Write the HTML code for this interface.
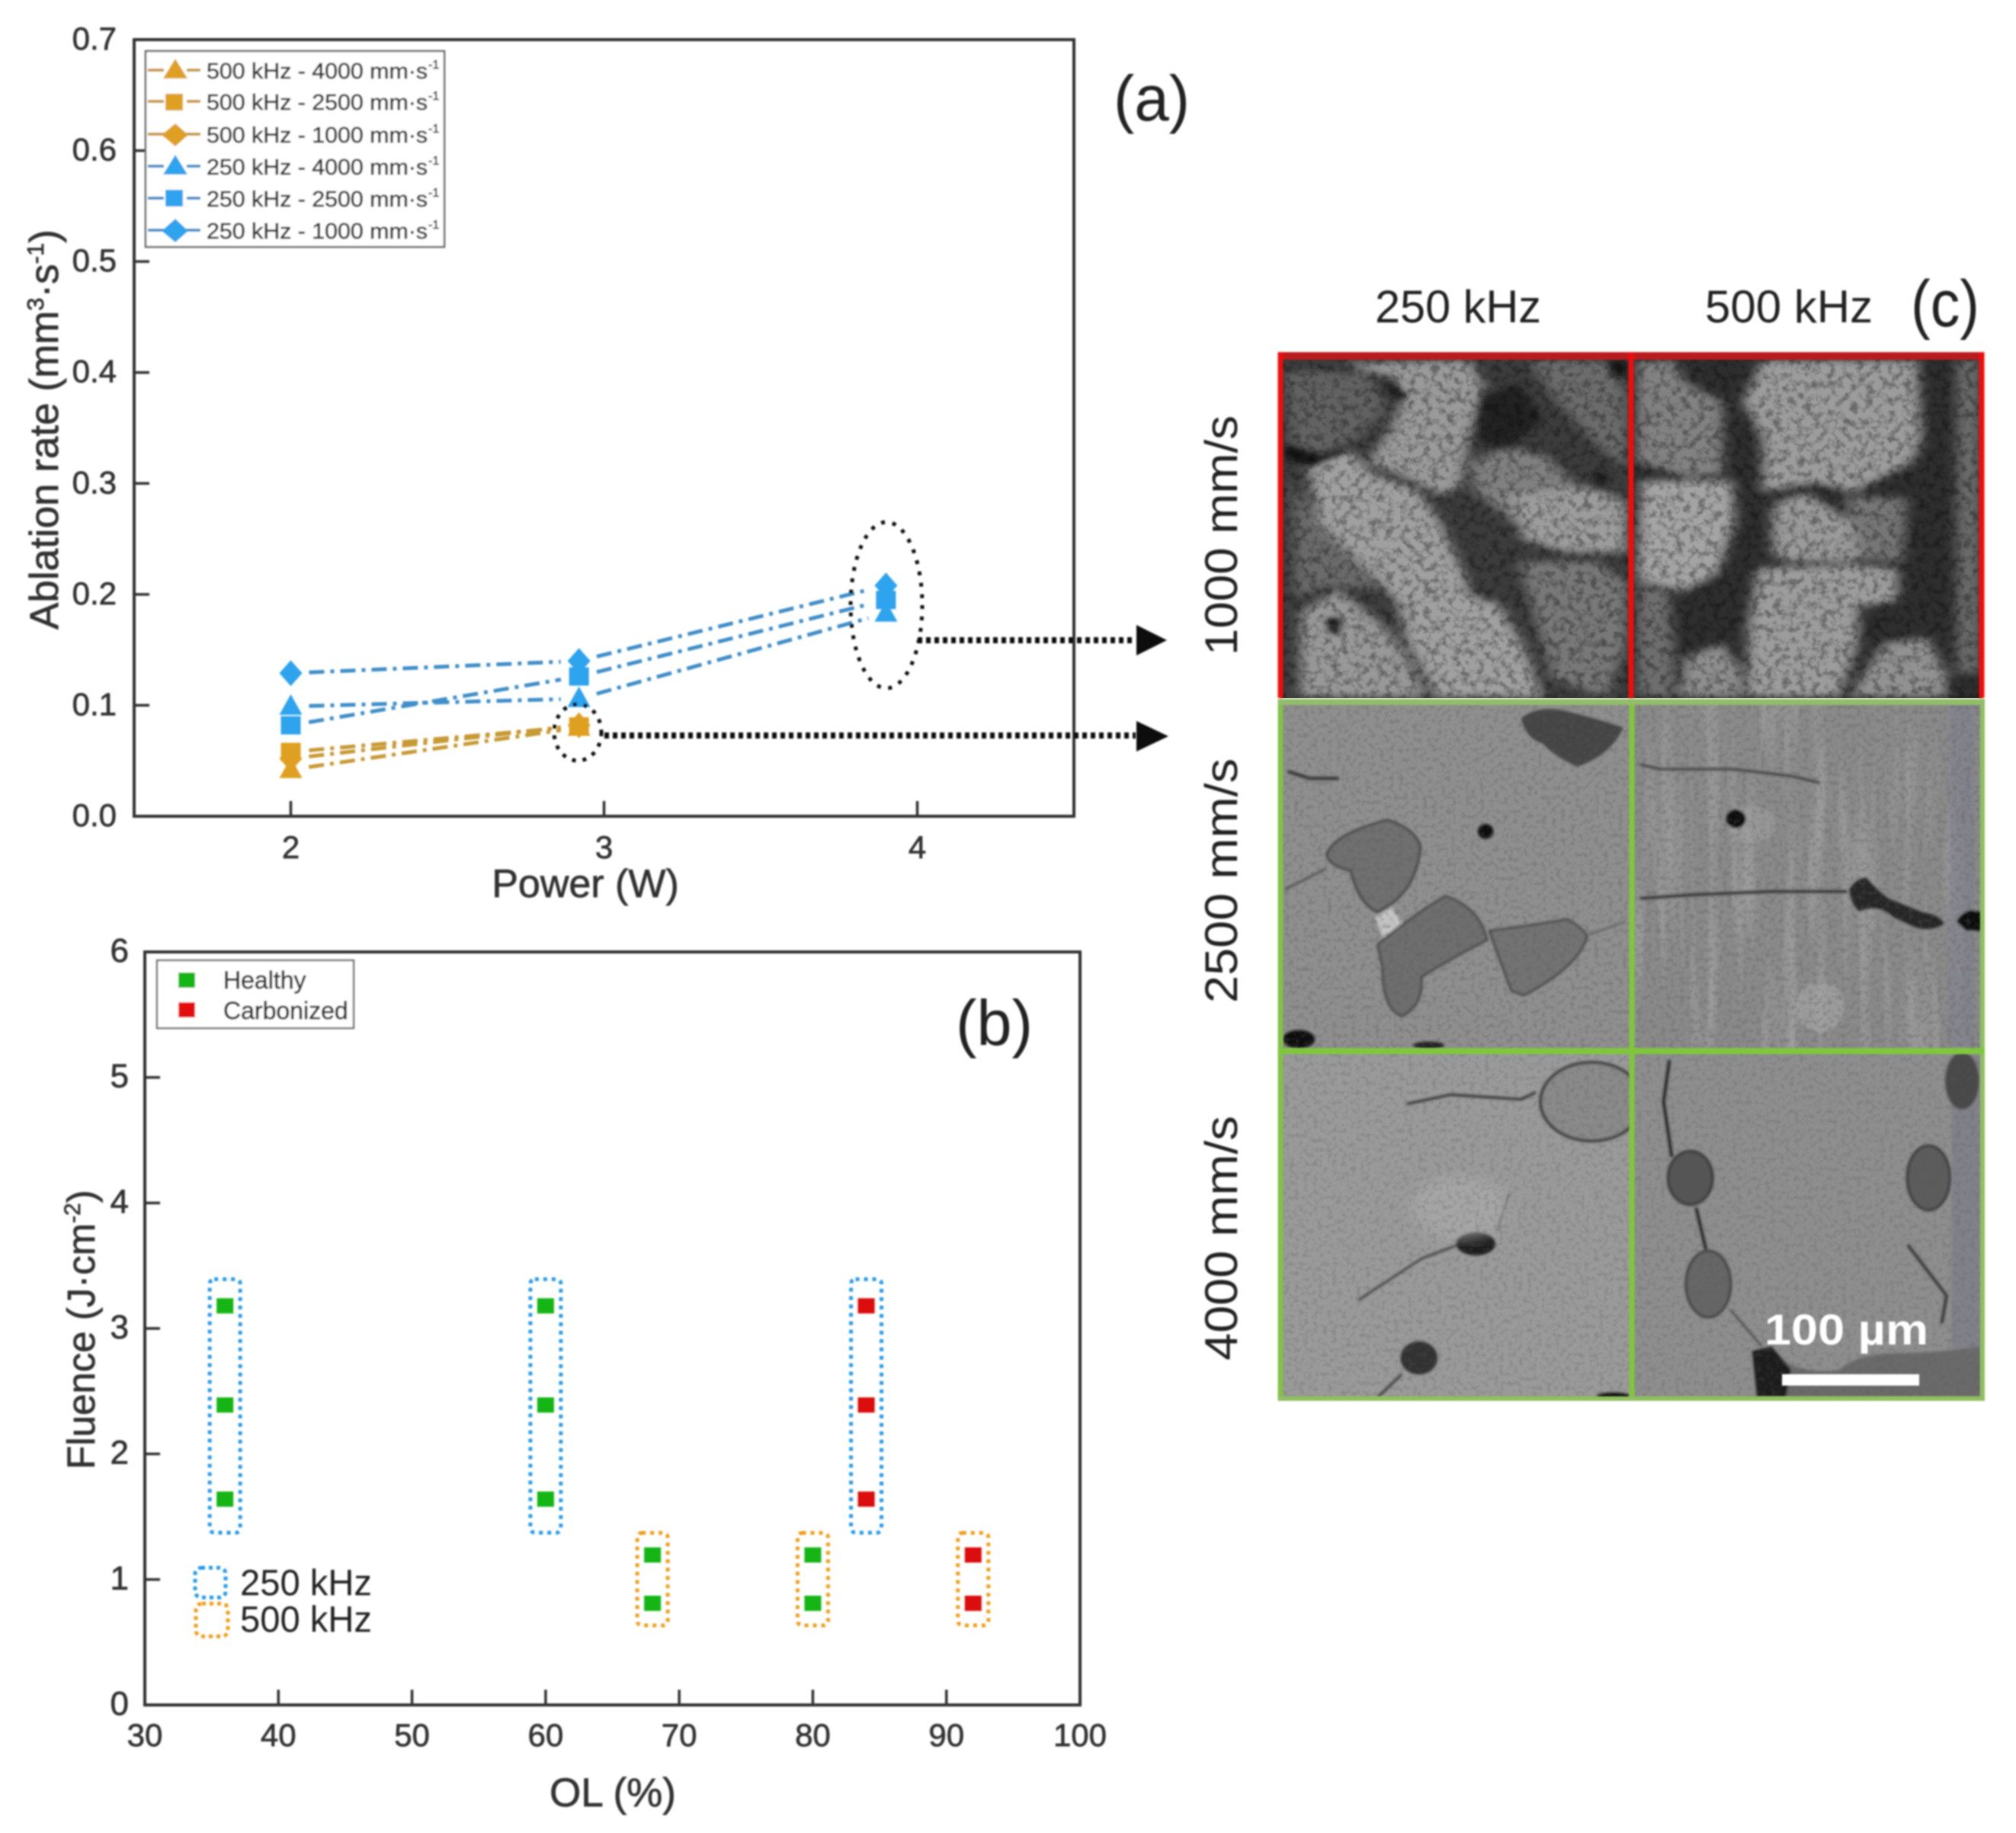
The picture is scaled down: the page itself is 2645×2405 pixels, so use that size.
<!DOCTYPE html>
<html lang="en">
<head>
<meta charset="utf-8">
<title>Ablation rate, fluence and SEM micrographs</title>
<style>
html,body{margin:0;padding:0;background:#fff;}
svg{display:block;}
text{font-family:"Liberation Sans",sans-serif;}
#panelA text,#panelB text{stroke:#333;stroke-width:0.7px;}
</style>
</head>
<body>
<svg id="figure" xmlns="http://www.w3.org/2000/svg" width="2645" height="2405" viewBox="0 0 2645 2405">
<defs>
  <filter id="soft" x="-2%" y="-2%" width="104%" height="104%"><feGaussianBlur stdDeviation="1.1"/></filter>
  <filter id="softblob" x="-10%" y="-10%" width="120%" height="120%"><feGaussianBlur stdDeviation="13"/></filter>
  <filter id="softcrevice" x="-30%" y="-30%" width="160%" height="160%"><feGaussianBlur stdDeviation="8"/></filter>
  <filter id="softedge" x="-10%" y="-10%" width="120%" height="120%"><feGaussianBlur stdDeviation="3"/></filter>
  <filter id="grainCoarse" x="0" y="0" width="100%" height="100%">
    <feTurbulence type="fractalNoise" baseFrequency="0.1" numOctaves="3" seed="7"/>
    <feColorMatrix type="matrix" values="0 0 0 0 0  0 0 0 0 0  0 0 0 0 0  3 0 0 0 -1.3"/>
    <feGaussianBlur stdDeviation="0.9"/>
  </filter>
  <filter id="grainFine" x="0" y="0" width="100%" height="100%">
    <feTurbulence type="fractalNoise" baseFrequency="0.16" numOctaves="2" seed="11"/>
    <feColorMatrix type="matrix" values="0 0 0 0 0.1  0 0 0 0 0.1  0 0 0 0 0.1  3 0 0 0 -1.35"/>
    <feGaussianBlur stdDeviation="0.8"/>
  </filter>
  <filter id="grainStreak" x="0" y="0" width="100%" height="100%">
    <feTurbulence type="fractalNoise" baseFrequency="0.05 0.004" numOctaves="2" seed="3"/>
    <feColorMatrix type="matrix" values="0 0 0 0 0.85  0 0 0 0 0.85  0 0 0 0 0.85  3 0 0 0 -1.4"/>
  </filter>
  <clipPath id="clipTop1"><rect x="1682" y="466" width="460" height="450"/></clipPath>
  <clipPath id="clipTop2"><rect x="2142" y="466" width="460" height="450"/></clipPath>
  <clipPath id="clipMid1"><rect x="1682" y="921" width="460" height="458"/></clipPath>
  <clipPath id="clipMid2"><rect x="2142" y="921" width="460" height="458"/></clipPath>
  <clipPath id="clipBot1"><rect x="1682" y="1379" width="460" height="456"/></clipPath>
  <clipPath id="clipBot2"><rect x="2142" y="1379" width="460" height="456"/></clipPath>
</defs>

<rect width="2645" height="2405" fill="#ffffff"/>

<!-- Panel (a) -->
<g id="panelA" filter="url(#soft)">
  <rect x="176" y="52" width="1233" height="1019" fill="none" stroke="#333" stroke-width="4"/>
  <g id="ticksA"></g>
  <text x="768" y="1177" font-size="52" fill="#333" text-anchor="middle">Power (W)</text>
  <text transform="translate(76,826) rotate(-90)" font-size="53" fill="#333">Ablation rate (mm<tspan font-size="31" dy="-19">3</tspan><tspan dy="19">·s</tspan><tspan font-size="31" dy="-19">-1</tspan><tspan dy="19">)</tspan></text>
  <g id="seriesA"></g>

  <g>
    <rect x="191" y="67" width="392" height="257" fill="#fff" stroke="#666" stroke-width="2.5"/>
    <g>
      <line x1="194" y1="92" x2="263" y2="92" stroke="#c79a35" stroke-width="4" stroke-dasharray="21 30 18 100"/>
      <polygon points="230,77 246,103 214,103" fill="#dfa020"/>
      <text x="271" y="103" font-size="29" fill="#333" textLength="290" lengthAdjust="spacingAndGlyphs">500 kHz - 4000 mm·s</text>
      <text x="562" y="90" font-size="16" fill="#333">-1</text>
    </g>
    <g>
      <line x1="194" y1="133" x2="263" y2="133" stroke="#c79a35" stroke-width="4" stroke-dasharray="21 30 18 100"/>
      <rect x="217" y="123" width="23" height="22" fill="#dfa020"/>
      <text x="271" y="144" font-size="29" fill="#333" textLength="290" lengthAdjust="spacingAndGlyphs">500 kHz - 2500 mm·s</text>
      <text x="562" y="131" font-size="16" fill="#333">-1</text>
    </g>
    <g>
      <line x1="194" y1="176" x2="263" y2="176" stroke="#c79a35" stroke-width="4"/>
      <polygon points="230,162 247,177 230,192 212,177" fill="#dfa020"/>
      <text x="271" y="187" font-size="29" fill="#333" textLength="290" lengthAdjust="spacingAndGlyphs">500 kHz - 1000 mm·s</text>
      <text x="562" y="174" font-size="16" fill="#333">-1</text>
    </g>
    <g>
      <line x1="194" y1="218" x2="263" y2="218" stroke="#3f8fc9" stroke-width="4" stroke-dasharray="21 30 18 100"/>
      <polygon points="230,203 246,229 214,229" fill="#2ea3ee"/>
      <text x="271" y="229" font-size="29" fill="#333" textLength="290" lengthAdjust="spacingAndGlyphs">250 kHz - 4000 mm·s</text>
      <text x="562" y="216" font-size="16" fill="#333">-1</text>
    </g>
    <g>
      <line x1="194" y1="260" x2="263" y2="260" stroke="#3f8fc9" stroke-width="4" stroke-dasharray="21 30 18 100"/>
      <rect x="217" y="249" width="23" height="22" fill="#2ea3ee"/>
      <text x="271" y="271" font-size="29" fill="#333" textLength="290" lengthAdjust="spacingAndGlyphs">250 kHz - 2500 mm·s</text>
      <text x="562" y="258" font-size="16" fill="#333">-1</text>
    </g>
    <g>
      <line x1="194" y1="302" x2="263" y2="302" stroke="#3f8fc9" stroke-width="4"/>
      <polygon points="230,287 247,303 230,318 212,303" fill="#2ea3ee"/>
      <text x="271" y="313" font-size="29" fill="#333" textLength="290" lengthAdjust="spacingAndGlyphs">250 kHz - 1000 mm·s</text>
      <text x="562" y="300" font-size="16" fill="#333">-1</text>
    </g>
  </g>

  <g fill="none" stroke="#111">
    <ellipse cx="1163" cy="794" rx="47" ry="109" stroke-width="5" stroke-dasharray="5 10"/>
    <ellipse cx="758" cy="961" rx="31" ry="37" stroke-width="5" stroke-dasharray="5 9"/>
    <line x1="1204" y1="840" x2="1490" y2="840" stroke-width="8" stroke-dasharray="6 5"/>
    <polygon points="1491,820 1531,840 1491,860" fill="#111" stroke="none"/>
    <line x1="793" y1="965" x2="1490" y2="965" stroke-width="8" stroke-dasharray="6 5"/>
    <polygon points="1491,946 1533,966 1491,986" fill="#111" stroke="none"/>
  </g>
  <text x="1461" y="158" font-size="84" fill="#222" style="stroke:none" textLength="100" lengthAdjust="spacingAndGlyphs">(a)</text>
</g>

<!-- Panel (b) -->
<g id="panelB" filter="url(#soft)">
  <rect x="190" y="1249" width="1227" height="988" fill="none" stroke="#333" stroke-width="4"/>
  <g id="ticksB"></g>
  <text x="804" y="2370" font-size="53" fill="#333" text-anchor="middle">OL (%)</text>
  <text transform="translate(124,1928) rotate(-90)" font-size="51" fill="#333">Fluence (J·cm<tspan font-size="30" dy="-19">-2</tspan><tspan dy="19">)</tspan></text>
  <g id="groupsB"></g>
  <g id="pointsB"></g>

  <g>
    <rect x="206" y="1260" width="258" height="89" fill="#fff" stroke="#777" stroke-width="2.5"/>
    <rect x="234" y="1276" width="22" height="20" fill="#12b512"/>
    <text x="293" y="1297" font-size="32" fill="#333">Healthy</text>
    <rect x="234" y="1315" width="22" height="20" fill="#e40d0d"/>
    <text x="293" y="1337" font-size="32" fill="#333">Carbonized</text>
  </g>
  <g>
    <rect x="256" y="2057" width="40" height="39" rx="8" fill="none" stroke="#2b9be8" stroke-width="5" stroke-dasharray="5 5"/>
    <text x="315" y="2093" font-size="48" fill="#222" style="stroke:none" textLength="173" lengthAdjust="spacingAndGlyphs">250 kHz</text>
    <rect x="257" y="2104" width="42" height="43" rx="8" fill="none" stroke="#ef9f1e" stroke-width="5" stroke-dasharray="5 5"/>
    <text x="315" y="2141" font-size="48" fill="#222" style="stroke:none" textLength="173" lengthAdjust="spacingAndGlyphs">500 kHz</text>
  </g>
  <text x="1254" y="1371" font-size="84" fill="#222" style="stroke:none" textLength="101" lengthAdjust="spacingAndGlyphs">(b)</text>
</g>

<!-- Panel (c) -->
<g id="panelC" transform="translate(-2,0)">
  <g clip-path="url(#clipTop1)">
    <rect x="1682" y="466" width="460" height="450" fill="#3c3c3c"/>
    <g transform="translate(1650,330) scale(0.638,0.395)" filter="url(#softblob)">
      <polygon points="60,400 230,400 270,520 210,620 130,680 70,640" fill="#626262"/>
      <polygon points="560,360 730,360 762,480 762,720 700,640 620,500" fill="#6c6c6c"/>
      <polygon points="75,760 130,900 220,1040 250,1120 150,1110 80,1150" fill="#6a6a6a"/>
      <polygon points="540,1030 700,1030 762,1100 762,1300 720,1480 610,1420" fill="#787878"/>
      <polygon points="270,600 300,500 280,420 180,370 440,360 470,450 440,620 420,780 380,810 320,760 230,700" fill="#9a9a9a"/>
      <polygon points="105,720 190,655 240,740 330,790 380,900 430,1080 440,1140 500,1170 550,1310 590,1480 370,1480 310,1300 290,1170 220,1040 130,900" fill="#a0a0a0"/>
      <polygon points="440,700 520,650 600,680 660,780 640,980 530,900 500,860 450,800" fill="#808080"/>
      <polygon points="520,810 690,780 762,830 762,1000 640,1000 550,960" fill="#9c9c9c"/>
      <polygon points="90,1200 170,1120 260,1240 300,1320 350,1480 90,1480" fill="#989898"/>
    </g>
    <g transform="translate(1650,330) scale(0.638,0.395)" filter="url(#softcrevice)">
      <polygon points="270,420 310,480 290,500 265,450" fill="#1a1a1a"/>
      <polygon points="145,1220 175,1215 170,1270 150,1265" fill="#1a1a1a"/>
      <polygon points="700,730 725,740 715,790 695,770" fill="#1a1a1a"/>
      <polygon points="60,640 130,680 200,640 170,670 110,710 60,690" fill="#141414"/>
      <polygon points="720,360 762,360 762,420 735,410" fill="#141414"/>
      <polygon points="465,480 540,440 590,560 520,650 455,630" fill="#222222"/>
    </g>
    <rect x="1682" y="466" width="460" height="450" filter="url(#grainCoarse)" opacity="0.32"/>
  </g>
  <g clip-path="url(#clipTop2)">
    <rect x="2142" y="466" width="460" height="450" fill="#2e2e2e"/>
    <g transform="translate(1650,330) scale(0.638,0.395)" filter="url(#softblob)">
      <rect x="1440" y="360" width="50" height="1040" fill="#6c6c6c"/>
      <polygon points="782,360 860,360 880,430 960,500 960,740 890,750 782,700" fill="#828282"/>
      <polygon points="1000,500 1040,360 1360,360 1370,620 1350,700 1230,800 1150,770 1040,800 1040,620" fill="#9c9c9c"/>
      <polygon points="790,760 980,760 985,900 950,1070 880,1130 782,1090" fill="#a4a4a4"/>
      <polygon points="1060,840 1130,800 1230,900 1240,1030 1160,1030 1090,1030 1060,1000" fill="#9a9a9a"/>
      <polygon points="1210,810 1340,820 1330,1030 1240,1020" fill="#767676"/>
      <polygon points="1030,1050 1230,1040 1320,1050 1320,1160 1240,1180 1240,1300 1200,1480 1010,1480 1010,1250" fill="#9c9c9c"/>
      <polygon points="1290,1300 1380,1280 1420,1400 1420,1480 1220,1480 1250,1400" fill="#929292"/>
      <polygon points="880,1350 960,1300 1000,1400 1000,1480 870,1480" fill="#8e8e8e"/>
      <polygon points="782,1100 850,1130 860,1300 860,1480 782,1480" fill="#6e6e6e"/>
    </g>
    <rect x="2142" y="466" width="460" height="450" filter="url(#grainCoarse)" opacity="0.32"/>
  </g>

  <g clip-path="url(#clipMid1)">
    <rect x="1682" y="921" width="460" height="458" fill="#8f8f8f"/>
    <g transform="translate(1650,900) scale(0.638,0.606)" filter="url(#softedge)">
      <path d="M545,70 Q580,40 640,55 T755,90 Q730,150 660,175 Q610,150 590,125 Q555,115 545,70Z" fill="#444"/>
      <path d="M145,365 Q160,320 270,290 Q330,310 338,350 Q330,430 280,470 L250,490 Q210,470 195,400 Q150,390 145,365Z" fill="#707070" stroke="#333" stroke-width="4"/>
      <path d="M250,560 Q330,490 390,455 Q460,480 475,550 Q400,590 340,630 Q345,690 300,715 Q260,700 260,610Z" fill="#6e6e6e" stroke="#3a3a3a" stroke-width="4"/>
      <path d="M480,530 Q560,520 640,505 Q680,530 680,545 Q660,610 550,670 L525,660 Q500,590 480,530Z" fill="#737373" stroke="#3a3a3a" stroke-width="4"/>
      <polygon points="245,500 280,480 300,515 260,545" fill="#c4c4c4"/>
      <circle cx="472" cy="315" r="16" fill="#111"/>
      <ellipse cx="88" cy="765" rx="33" ry="20" fill="#0c0c0c"/>
      <ellipse cx="355" cy="778" rx="32" ry="8" fill="#222"/>
      <polyline points="60,440 145,395" fill="none" stroke="#333" stroke-width="3"/>
      <polyline points="65,185 110,200 170,200" fill="none" stroke="#333" stroke-width="7"/>
      <polyline points="680,540 760,510" fill="none" stroke="#555" stroke-width="3"/>
    </g>
    <rect x="1682" y="921" width="460" height="458" filter="url(#grainFine)" opacity="0.3"/>
  </g>
  <g clip-path="url(#clipMid2)">
    <rect x="2142" y="921" width="460" height="458" fill="#8a8a8a"/>
    <rect x="2142" y="921" width="460" height="458" filter="url(#grainStreak)" opacity="0.18"/>
    <g transform="translate(1650,900) scale(0.638,0.606)" filter="url(#softedge)">
      <ellipse cx="1160" cy="695" rx="50" ry="55" fill="#a4a4a4" opacity="0.7"/>
      <ellipse cx="1020" cy="300" rx="50" ry="40" fill="#a0a0a0" opacity="0.6"/>
      <rect x="1428" y="40" width="50" height="740" fill="#80808c" opacity="0.7"/>
      <circle cx="987" cy="288" r="20" fill="#0a0a0a"/>
      <polyline points="790,170 830,180 980,180 1100,195 1160,210" fill="none" stroke="#2b2b2b" stroke-width="4"/>
      <polyline points="790,460 900,452 1060,445 1215,445" fill="none" stroke="#222" stroke-width="5"/>
      <path d="M1220,440 Q1235,415 1255,415 Q1275,440 1300,460 L1370,490 Q1405,495 1415,515 Q1385,535 1350,520 L1310,500 Q1280,470 1240,488 Q1222,470 1220,440Z" fill="#262626"/>
      <path d="M1440,510 Q1450,490 1470,485 L1492,490 L1492,530 L1460,530Z" fill="#0e0e0e"/>
    </g>
    <rect x="2142" y="921" width="460" height="458" filter="url(#grainFine)" opacity="0.3"/>
  </g>

  <g clip-path="url(#clipBot1)">
    <rect x="1682" y="1379" width="460" height="456" fill="#9a9a9a"/>
    <g transform="translate(1650,900) scale(0.638,0.606)" filter="url(#softedge)">
      <ellipse cx="690" cy="900" rx="105" ry="85" fill="#8a8a8a" stroke="#333" stroke-width="6"/>
      <polyline points="310,905 400,885 545,895 575,880" fill="none" stroke="#2b2b2b" stroke-width="5"/>
      <polyline points="210,1330 340,1240 415,1210" fill="none" stroke="#333" stroke-width="4"/>
      <polyline points="495,1180 520,1100" fill="none" stroke="#444" stroke-width="3"/>
      <ellipse cx="452" cy="1208" rx="40" ry="25" fill="#1c1c1c"/>
      <ellipse cx="335" cy="1455" rx="38" ry="36" fill="#333"/>
      <polyline points="250,1540 300,1490" fill="none" stroke="#222" stroke-width="4"/>
      <ellipse cx="735" cy="1538" rx="35" ry="8" fill="#111"/>
    </g>
    <g transform="translate(1650,900) scale(0.638,0.606)" filter="url(#softblob)">
      <ellipse cx="420" cy="1130" rx="100" ry="70" fill="#adadad" opacity="0.6"/>
    </g>
    <rect x="1682" y="1379" width="460" height="456" filter="url(#grainFine)" opacity="0.24"/>
  </g>
  <g clip-path="url(#clipBot2)">
    <rect x="2142" y="1379" width="460" height="456" fill="#8e8e8e"/>
    <g transform="translate(1650,900) scale(0.638,0.606)" filter="url(#softedge)">
      <rect x="1430" y="800" width="60" height="740" fill="#7c7c88" opacity="0.7"/>
      <ellipse cx="893" cy="1065" rx="46" ry="58" fill="#555" stroke="#222" stroke-width="4"/>
      <ellipse cx="930" cy="1295" rx="46" ry="72" fill="#666" stroke="#2a2a2a" stroke-width="4"/>
      <ellipse cx="1383" cy="1065" rx="44" ry="70" fill="#5c5c5c" stroke="#222" stroke-width="4"/>
      <ellipse cx="1452" cy="855" rx="35" ry="62" fill="#4a4a4a"/>
      <polyline points="850,810 838,900 855,1020" fill="none" stroke="#1c1c1c" stroke-width="6"/>
      <polyline points="905,1130 925,1220" fill="none" stroke="#1c1c1c" stroke-width="6"/>
      <polyline points="975,1350 1040,1430" fill="none" stroke="#333" stroke-width="3"/>
      <polyline points="1340,1210 1420,1320 1410,1380" fill="none" stroke="#333" stroke-width="6"/>
      <path d="M1060,1440 L1100,1470 Q1150,1490 1200,1480 Q1230,1450 1300,1445 Q1400,1445 1490,1430 L1490,1540 L1060,1540Z" fill="#6a6a6a"/>
      <path d="M1020,1440 L1060,1430 L1100,1480 L1090,1540 L1030,1540Z" fill="#1f1f1f"/>
    </g>
    <rect x="2142" y="1379" width="460" height="456" filter="url(#grainFine)" opacity="0.24"/>
  </g>

  <g filter="url(#soft)">
    <line x1="1679" y1="467" x2="2605" y2="467" stroke="#b81a1a" stroke-width="10"/>
    <line x1="1682" y1="462" x2="1682" y2="916" stroke="#ee1010" stroke-width="7"/>
    <line x1="2142" y1="462" x2="2142" y2="916" stroke="#ee1010" stroke-width="7"/>
    <line x1="2602" y1="462" x2="2602" y2="916" stroke="#ee1010" stroke-width="7"/>
    <line x1="1682" y1="918" x2="1682" y2="1838" stroke="#84bf4a" stroke-width="7"/>
    <line x1="2143" y1="918" x2="2143" y2="1838" stroke="#80c63e" stroke-width="7"/>
    <line x1="2603" y1="918" x2="2603" y2="1835" stroke="#8fbf60" stroke-width="6"/>
    <line x1="1679" y1="921" x2="2606" y2="921" stroke="#92bd6a" stroke-width="8"/>
    <line x1="1679" y1="1379" x2="2606" y2="1379" stroke="#80c63e" stroke-width="8"/>
    <line x1="1679" y1="1835" x2="2606" y2="1835" stroke="#8fbf60" stroke-width="6"/>
  </g>

  <g filter="url(#soft)">
    <text x="1806" y="423" font-size="60" fill="#222" textLength="218" lengthAdjust="spacingAndGlyphs">250 kHz</text>
    <text x="2239" y="423" font-size="60" fill="#222" textLength="220" lengthAdjust="spacingAndGlyphs">500 kHz</text>
    <text x="2509" y="428" font-size="86" fill="#222" textLength="90" lengthAdjust="spacingAndGlyphs">(c)</text>
    <text transform="translate(1625,860) rotate(-90)" font-size="60" fill="#222" textLength="315" lengthAdjust="spacingAndGlyphs">1000 mm/s</text>
    <text transform="translate(1625,1316) rotate(-90)" font-size="60" fill="#222" textLength="321" lengthAdjust="spacingAndGlyphs">2500 mm/s</text>
    <text transform="translate(1625,1785) rotate(-90)" font-size="60" fill="#222" textLength="321" lengthAdjust="spacingAndGlyphs">4000 mm/s</text>
    <text x="2317" y="1764" font-size="57" font-weight="bold" fill="#fff" textLength="215" lengthAdjust="spacingAndGlyphs">100 µm</text>
    <rect x="2340" y="1803" width="180" height="15" fill="#fff"/>
  </g>
</g>

<script>
// Panel (a) data
const powerValues = [2, 2.92, 3.9];
const rate250k1000 = [0.129, 0.14, 0.208];
const rate250k2500 = [0.082, 0.126, 0.195];
const rate250k4000 = [0.099, 0.106, 0.183];
const rate500k1000 = [0.052, 0.082];
const rate500k2500 = [0.058, 0.081];
const rate500k4000 = [0.042, 0.08];
const yTickLabelsA = ["0.0", "0.1", "0.2", "0.3", "0.4", "0.5", "0.6", "0.7"];
const xTickLabelsA = ["2", "3", "4"];

// Panel (b) data
const healthyOL = [36, 36, 36, 60, 60, 60, 68, 68, 80, 80];
const healthyFluence = [3.18, 2.39, 1.64, 3.18, 2.39, 1.64, 1.195, 0.81, 1.195, 0.81];
const carbonizedOL = [84, 84, 84, 92, 92];
const carbonizedFluence = [3.18, 2.39, 1.64, 1.195, 0.81];
const groupOL250 = [36, 60, 84];
const groupOL500 = [68, 80, 92];
const range250 = [1.64, 3.18];
const range500 = [0.81, 1.195];
const yTickLabelsB = ["0", "1", "2", "3", "4", "5", "6"];
const xTickLabelsB = ["30", "40", "50", "60", "70", "80", "90", "100"];

const SVGNS = "http://www.w3.org/2000/svg";
function make(tag, attrs, parent) {
  const el = document.createElementNS(SVGNS, tag);
  for (const k in attrs) el.setAttribute(k, attrs[k]);
  parent.appendChild(el);
  return el;
}

// Axis functions
function xA(v) { return 176 + (v - 1.5) / 3 * 1233; }
function yA(v) { return 1071 - v / 0.7 * 1019; }
function xB(v) { return 190 + (v - 30) / 70 * 1227; }
function yB(v) { return 2237 - v / 6 * 988; }

// Ticks panel a
const ticksA = document.getElementById("ticksA");
yTickLabelsA.forEach(function (label) {
  const v = parseFloat(label);
  if (v > 0 && v < 0.7) {
    const t = make("line", {x1: 176, x2: 196, y1: yA(v), y2: yA(v), stroke: "#333", "stroke-width": 3.5}, ticksA);
    
    
  }
  const txt = make("text", {x: 153, y: yA(v) + 13, "font-size": 42, fill: "#333", "text-anchor": "end"}, ticksA);
  txt.textContent = label;
  
  
});
xTickLabelsA.forEach(function (label) {
  const v = parseFloat(label);
  const t = make("line", {x1: xA(v), x2: xA(v), y1: 1071, y2: 1051, stroke: "#333", "stroke-width": 3.5}, ticksA);
  
  
  const txt = make("text", {x: xA(v), y: 1126, "font-size": 42, fill: "#333", "text-anchor": "middle"}, ticksA);
  txt.textContent = label;
  
  
});

// Series panel a
const seriesA = document.getElementById("seriesA");
const COLOR_ORANGE_LINE = "#c79a35", COLOR_ORANGE_MARK = "#dfa020";
const COLOR_BLUE_LINE = "#3f8fc9", COLOR_BLUE_MARK = "#2ea3ee";

function drawSeries(values, shape, lineColor, markColor, name) {
  const group = make("g", {}, seriesA);
  
  
  const gap = 24;
  for (let i = 0; i < values.length - 1; i++) {
    const x1 = xA(powerValues[i]), y1 = yA(values[i]);
    const x2 = xA(powerValues[i + 1]), y2 = yA(values[i + 1]);
    const len = Math.hypot(x2 - x1, y2 - y1);
    const ux = (x2 - x1) / len, uy = (y2 - y1) / len;
    const seg = make("line", {
      x1: x1 + ux * gap, y1: y1 + uy * gap, x2: x2 - ux * gap, y2: y2 - uy * gap,
      stroke: lineColor, "stroke-width": 5, "stroke-dasharray": "20 8 5 8"
    }, group);
    
    
  }
  values.forEach(function (val, i) {
    const cx = xA(powerValues[i]), cy = yA(val);
    let mark;
    if (shape === "triangle") {
      mark = make("polygon", {points: cx + "," + (cy - 16) + " " + (cx + 15) + "," + (cy + 11) + " " + (cx - 15) + "," + (cy + 11), fill: markColor}, group);
    } else if (shape === "square") {
      mark = make("rect", {x: cx - 13, y: cy - 12, width: 26, height: 24, fill: markColor}, group);
    } else {
      mark = make("polygon", {points: cx + "," + (cy - 17) + " " + (cx + 15) + "," + cy + " " + cx + "," + (cy + 17) + " " + (cx - 15) + "," + cy, fill: markColor}, group);
    }
    
    
  });
}
drawSeries(rate500k4000, "triangle", COLOR_ORANGE_LINE, COLOR_ORANGE_MARK, "series-500khz-4000");
drawSeries(rate500k2500, "square", COLOR_ORANGE_LINE, COLOR_ORANGE_MARK, "series-500khz-2500");
drawSeries(rate500k1000, "diamond", COLOR_ORANGE_LINE, COLOR_ORANGE_MARK, "series-500khz-1000");
drawSeries(rate250k4000, "triangle", COLOR_BLUE_LINE, COLOR_BLUE_MARK, "series-250khz-4000");
drawSeries(rate250k2500, "square", COLOR_BLUE_LINE, COLOR_BLUE_MARK, "series-250khz-2500");
drawSeries(rate250k1000, "diamond", COLOR_BLUE_LINE, COLOR_BLUE_MARK, "series-250khz-1000");

// Ticks panel b
const ticksB = document.getElementById("ticksB");
yTickLabelsB.forEach(function (label) {
  const v = parseFloat(label);
  if (v > 0 && v < 6) {
    const t = make("line", {x1: 190, x2: 210, y1: yB(v), y2: yB(v), stroke: "#333", "stroke-width": 3.5}, ticksB);
    
    
  }
  const txt = make("text", {x: 169, y: yB(v) + 13, "font-size": 44, fill: "#333", "text-anchor": "end"}, ticksB);
  txt.textContent = label;
  
  
});
xTickLabelsB.forEach(function (label) {
  const v = parseFloat(label);
  if (v > 30 && v < 100) {
    const t = make("line", {x1: xB(v), x2: xB(v), y1: 2237, y2: 2217, stroke: "#333", "stroke-width": 3.5}, ticksB);
    
    
  }
  const txt = make("text", {x: xB(v), y: 2291, "font-size": 42, fill: "#333", "text-anchor": "middle"}, ticksB);
  txt.textContent = label;
  
  
});

// Group boxes panel b
const groupsB = document.getElementById("groupsB");
groupOL250.forEach(function (ol) {
  const cx = xB(ol);
  const box = make("rect", {
    x: cx - 20, y: yB(range250[1]) - 35, width: 40, height: yB(range250[0]) - yB(range250[1]) + 79,
    rx: 6, fill: "none", stroke: "#2b9be8", "stroke-width": 5, "stroke-dasharray": "5 6"
  }, groupsB);
  
  
});
groupOL500.forEach(function (ol) {
  const cx = xB(ol);
  const box = make("rect", {
    x: cx - 20, y: yB(range500[1]) - 29, width: 40, height: yB(range500[0]) - yB(range500[1]) + 58,
    rx: 6, fill: "none", stroke: "#ef9f1e", "stroke-width": 5, "stroke-dasharray": "5 6"
  }, groupsB);
  
  
});

// Points panel b
const pointsB = document.getElementById("pointsB");
healthyOL.forEach(function (ol, i) {
  const p = make("rect", {x: xB(ol) - 11, y: yB(healthyFluence[i]) - 10, width: 22, height: 20, fill: "#12b512"}, pointsB);
  
  
});
carbonizedOL.forEach(function (ol, i) {
  const p = make("rect", {x: xB(ol) - 11, y: yB(carbonizedFluence[i]) - 10, width: 22, height: 20, fill: "#dc1010"}, pointsB);
  
  
});
</script>
</svg>
</body>
</html>
